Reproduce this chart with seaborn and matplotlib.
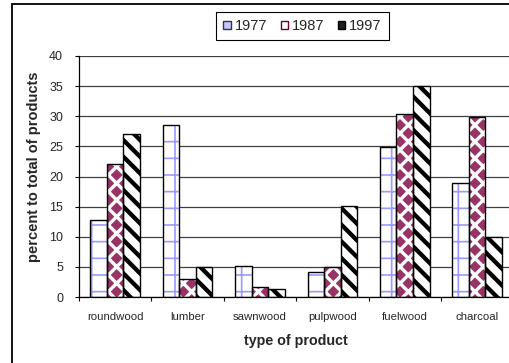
import matplotlib
matplotlib.use("Agg")
import matplotlib.pyplot as plt
from matplotlib.patches import Rectangle, Patch
import seaborn as sns
import pandas as pd

products = ["roundwood", "lumber", "sawnwood", "pulpwood", "fuelwood", "charcoal"]
years = ["1977", "1987", "1997"]
v1977 = [12.8, 28.5, 5.2, 4.1, 24.9, 19.0]
v1987 = [22.0, 3.0, 1.6, 4.9, 30.3, 29.9]
v1997 = [27.0, 4.9, 1.4, 15.1, 35.0, 9.9]
yticks = [0, 5, 10, 15, 20, 25, 30, 35, 40]

rows = []
for yr, vals in zip(years, [v1977, v1987, v1997]):
    for p, v in zip(products, vals):
        rows.append({"product": p, "year": yr, "value": v})
df = pd.DataFrame(rows)

sns.set_style("white")
plt.rcParams["font.family"] = ["Liberation Sans", "DejaVu Sans"]

fig = plt.figure(figsize=(5.10, 3.63), dpi=100)
ax = fig.add_axes([79.0 / 510, 1 - 297 / 363, (513.3 - 79.0) / 510, (297 - 56) / 363])

sns.barplot(data=df, x="product", y="value", hue="year", order=products,
            hue_order=years, width=0.685, gap=0, saturation=1,
            palette=["white", "#993366", "white"], legend=False, ax=ax, zorder=2)

styles = {
    "1977": dict(face="white", hatch="+", hcolor="#9999FF", hlw=1.2),
    "1987": dict(face="#993366", hatch="xx", hcolor="white", hlw=2.4),
    "1997": dict(face="white", hatch="\\\\", hcolor="black", hlw=3.1),
}

for yr, cont in zip(years, ax.containers):
    st = styles[yr]
    for p in cont:
        p.set_facecolor(st["face"])
        p.set_hatch(st["hatch"])
        p.set_edgecolor(st["hcolor"])
        p.set_linewidth(0)
        if hasattr(p, "set_hatch_linewidth"):
            p.set_hatch_linewidth(st["hlw"])
        ax.add_patch(Rectangle(p.get_xy(), p.get_width(), p.get_height(),
                               fill=False, edgecolor="black", linewidth=1.0, zorder=3))

ax.set_xlim(-0.5, 5.5)
ax.set_ylim(0, 40)
ax.set_yticks(yticks)
ax.set_yticklabels([str(t) for t in yticks], fontsize=9)
ax.yaxis.grid(True, color="#404040", linewidth=0.9, zorder=0)
ax.set_axisbelow(True)
ax.tick_params(axis="y", direction="out", length=3, width=0.8, color="black", pad=8.5, left=True)

ax.set_xticks(range(len(products)))
ax.set_xticklabels(products, fontsize=8.2)
ax.tick_params(axis="x", which="major", length=0, pad=11)
ax.set_xticks([i + 0.5 for i in range(-1, len(products))], minor=True)
ax.tick_params(axis="x", which="minor", direction="out", length=3, width=0.8, color="black", bottom=True)

for s in ["top", "right"]:
    ax.spines[s].set_visible(False)
for s in ["left", "bottom"]:
    ax.spines[s].set_color("black")
    ax.spines[s].set_linewidth(0.9)

ax.set_xlabel("type of product", fontsize=10.3, fontweight="bold", labelpad=8.5)
ax.set_ylabel("percent to total of products", fontsize=10.5, fontweight="bold")
ax.yaxis.set_label_coords(-0.088, (297 - 167) / 241)

legend_faces = {"1977": "#C8C8F8", "1987": "white", "1997": "#202020"}
legend_edges = {"1977": "#303060", "1987": "#660033", "1997": "black"}
handles = [Patch(facecolor=legend_faces[yr], edgecolor=legend_edges[yr], linewidth=1.0) for yr in years]
leg = fig.legend(handles, years, loc="center", bbox_to_anchor=(302.5 / 510, 1 - 26 / 363),
                 ncol=3, fontsize=10.5, frameon=True, fancybox=False, handlelength=0.5,
                 handleheight=0.5, handletextpad=0.25, columnspacing=0.95, borderpad=0.5,
                 edgecolor="black", framealpha=1)
leg.get_frame().set_linewidth(0.8)

fig.patches.append(Rectangle((12 / 510, -0.1), 1.2, 1.1 - 4 / 363, transform=fig.transFigure,
                             fill=False, edgecolor="black", linewidth=1.3, zorder=10))

fig.savefig("out.png", dpi=100)
